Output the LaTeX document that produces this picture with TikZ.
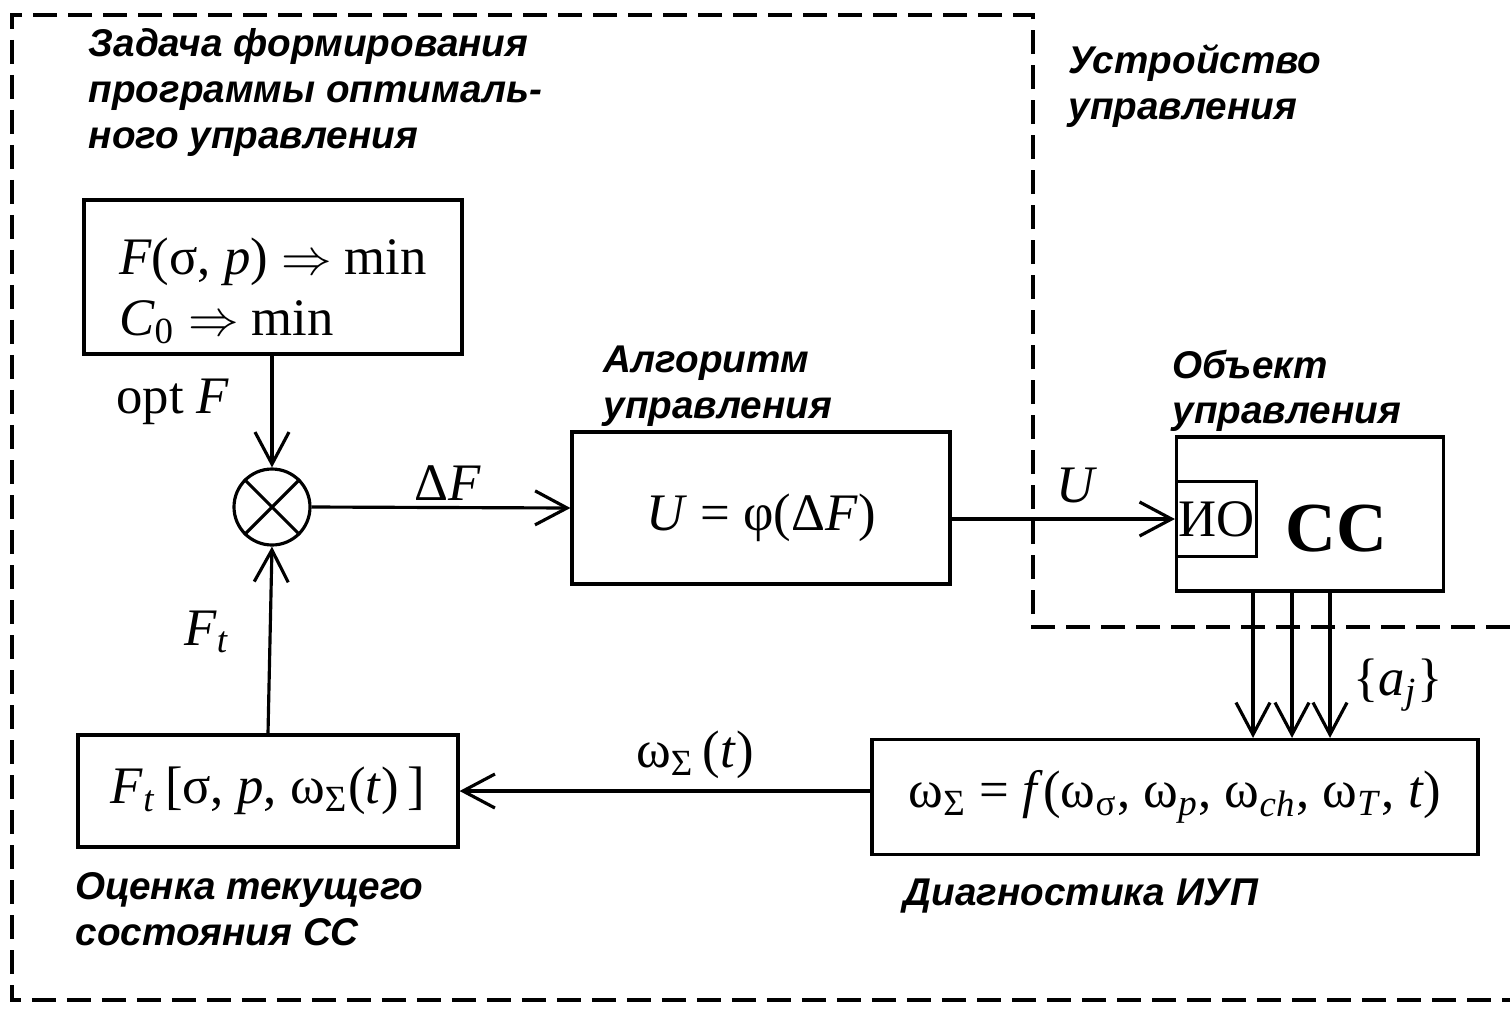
\documentclass[tikz,border=0pt]{standalone}
\usepackage{fontspec}
\setmainfont{Liberation Serif}
\newfontfamily\labfont{Liberation Sans}
\usepackage{tikz}
\usetikzlibrary{arrows.meta, positioning, calc}

\begin{document}
\begin{tikzpicture}[
    block/.style={rectangle, draw, line width=0.9pt, align=center, inner sep=0pt, font=\fontsize{15}{17.3}\selectfont},
    caption/.style={anchor=north west, inner sep=0pt, align=left, font=\labfont\bfseries\itshape\fontsize{11}{13}\selectfont},
    sig/.style={inner sep=0pt, font=\fontsize{15}{17}\selectfont},
    flow/.style={line width=0.9pt, -{Straight Barb[length=3.2mm, width=3.4mm]}},
    region/.style={line width=1.1pt, dash pattern=on 2.4mm off 1.1mm}
]
\useasboundingbox (0,0) rectangle (15.10,10.09);

% Regions
\draw[region] (15.10,3.82) -- (10.33,3.82) -- (10.33,9.94) -- (0.12,9.94) -- (0.12,0.09) -- (15.10,0.09);
\node[caption] (capopt) at (0.88,9.81) {Задача формирования\\программы оптималь-\\ного управления};
\node[caption] (capdev) at (10.68,9.65) {Устройство\\управления};

% Blocks
\node[block, minimum width=3.78cm, minimum height=1.54cm, align=left] (goal) at (2.73,7.32)
    {\rule{0pt}{0.64cm}\textit{F}(σ, \textit{p}) $\Rightarrow$ min\\\textit{C}\textsubscript{0} $\Rightarrow$ min};
\node[circle, draw, line width=0.9pt, minimum size=0.76cm, inner sep=0pt] (sum) at (2.72,5.02) {};
\draw[line width=0.9pt] (sum.north west) -- (sum.south east) (sum.north east) -- (sum.south west);
\node[block, minimum width=3.78cm, minimum height=1.52cm, text height=0.57cm, text depth=0.13cm] (alg) at (7.61,5.01) {\textit{U} = φ(Δ\textit{F})};
\node[block, minimum width=2.67cm, minimum height=1.54cm] (plant) at (13.10,4.95) {};
\node[block, minimum width=0.80cm, minimum height=0.75cm, anchor=west] (io) at ($(plant.west)+(0,-0.05)$) {ИО};
\node[font=\bfseries\fontsize{20}{22}\selectfont, inner sep=0pt] (cc) at (13.36,4.80) {СС};
\node[block, minimum width=6.06cm, minimum height=1.15cm] (diag) at (11.75,2.12)
    {ω\textsubscript{Σ} = \textit{f}(ω\textsubscript{σ}, ω\textsubscript{\textit{p}}, ω\textsubscript{\textit{ch}}, ω\textsubscript{\textit{T}}, \textit{t})};
\node[block, minimum width=3.80cm, minimum height=1.12cm] (est) at (2.68,2.18)
    {\textit{F}\textsubscript{\textit{t}}\,[σ, \textit{p}, ω\textsubscript{Σ}(\textit{t})\,]};

% Captions
\node[caption] (capalg) at (6.03,6.64) {Алгоритм\\управления};
\node[caption] (capplant) at (11.72,6.60) {Объект\\управления};
\node[caption] (capest) at (0.75,1.37) {Оценка текущего\\состояния СС};
\node[caption] (capdiag) at (9.03,1.31) {Диагностика ИУП};

% Connections
\draw[flow] (goal.south -| sum.north) -- (sum.north);
\node[sig] (optF) at (1.73,6.07) {opt \textit{F}};
\draw[flow] (sum.east) -- (alg.west);
\node[sig] (dF) at (4.48,5.26) {Δ\textit{F}};
\draw[flow] (alg.east |- io.west) -- (io.west);
\node[sig] (sigU) at (10.77,5.24) {\textit{U}};
\foreach \d in {-0.57,-0.18,0.20} {
    \draw[flow] ([xshift=\d cm]plant.south) -- ([xshift=\d cm]plant.south |- diag.north);
}
\node[sig] (aj) at (13.98,3.24) {\{\textit{a}\textsubscript{\textit{j}}\}};
\draw[flow] (diag.west |- est.east) -- (est.east);
\node[sig] (wt) at (6.95,2.54) {ω\textsubscript{Σ}\,(\textit{t})};
\draw[flow] (est.north) -- (sum.south);
\node[sig] (Ft) at (2.07,3.77) {\textit{F}\textsubscript{\textit{t}}};

\end{tikzpicture}
\end{document}
